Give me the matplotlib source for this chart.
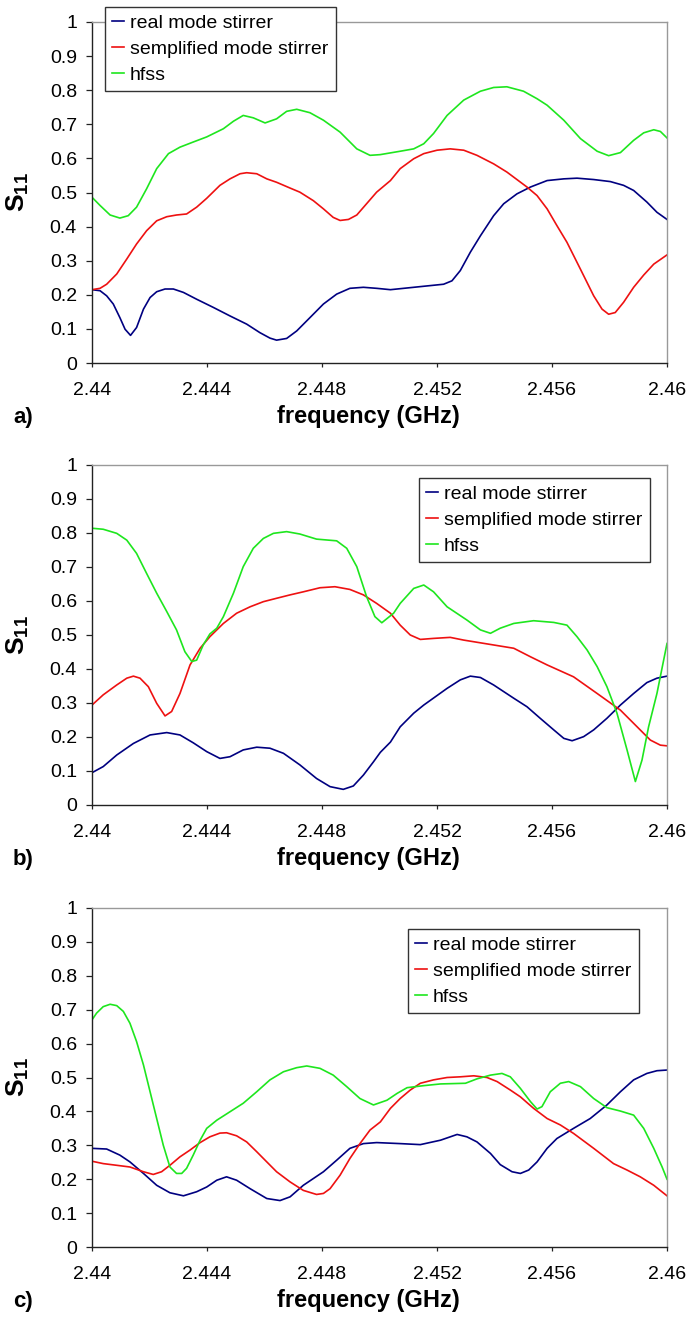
import matplotlib
matplotlib.use("Agg")
import matplotlib.pyplot as plt

plt.rcParams['font.family'] = ['Liberation Sans', 'DejaVu Sans']
plt.rcParams['mathtext.fontset'] = 'custom'
plt.rcParams['mathtext.bf'] = 'Liberation Sans:bold'
plt.rcParams['mathtext.rm'] = 'Liberation Sans'

# ---------------- data ----------------
series_names = ["real mode stirrer", "semplified mode stirrer", "hfss"]
x_ticks = [2.44, 2.444, 2.448, 2.452, 2.456, 2.46]
x_tick_labels = ["2.44", "2.444", "2.448", "2.452", "2.456", "2.46"]
y_ticks = [0, 0.1, 0.2, 0.3, 0.4, 0.5, 0.6, 0.7, 0.8, 0.9, 1.0]
y_tick_labels = ["0", "0.1", "0.2", "0.3", "0.4", "0.5", "0.6", "0.7", "0.8", "0.9", "1"]
panel_tags = ["a)", "b)", "c)"]

# ---- panel a ----
a_real_f = [2.44000, 2.44028, 2.44051, 2.44074, 2.44097, 2.44115, 2.44134, 2.44155, 2.44179, 2.44202,
            2.44225, 2.44254, 2.44283, 2.44318, 2.44364, 2.44422, 2.44480, 2.44538, 2.44584, 2.44619,
            2.44642, 2.44677, 2.44712, 2.44758, 2.44805, 2.44851, 2.44897, 2.44944, 2.44990, 2.45038,
            2.45119, 2.45223, 2.45252, 2.45281, 2.45316, 2.45351, 2.45397, 2.45432, 2.45478, 2.45525,
            2.45583, 2.45641, 2.45687, 2.45745, 2.45803, 2.45849, 2.45884, 2.45930, 2.45965, 2.46000]
a_real_v = [0.215, 0.212, 0.197, 0.173, 0.133, 0.099, 0.081, 0.104, 0.158, 0.192,
            0.209, 0.217, 0.217, 0.207, 0.187, 0.163, 0.138, 0.114, 0.089, 0.073,
            0.067, 0.072, 0.094, 0.133, 0.173, 0.202, 0.219, 0.222, 0.219, 0.215,
            0.222, 0.231, 0.241, 0.271, 0.325, 0.373, 0.432, 0.467, 0.496, 0.516,
            0.535, 0.540, 0.542, 0.538, 0.532, 0.521, 0.506, 0.472, 0.442, 0.421]
a_simp_f = [2.44000, 2.44028, 2.44051, 2.44086, 2.44121, 2.44155, 2.44190, 2.44225, 2.44260, 2.44294,
            2.44329, 2.44364, 2.44399, 2.44445, 2.44480, 2.44515, 2.44538, 2.44573, 2.44608, 2.44642,
            2.44689, 2.44723, 2.44770, 2.44805, 2.44839, 2.44863, 2.44892, 2.44921, 2.44955, 2.44990,
            2.45038, 2.45072, 2.45119, 2.45154, 2.45200, 2.45246, 2.45293, 2.45339, 2.45397, 2.45443,
            2.45513, 2.45548, 2.45583, 2.45617, 2.45652, 2.45699, 2.45745, 2.45774, 2.45797, 2.45820,
            2.45849, 2.45884, 2.45919, 2.45954, 2.46000]
a_simp_v = [0.215, 0.219, 0.231, 0.261, 0.305, 0.349, 0.388, 0.417, 0.429, 0.434,
            0.437, 0.457, 0.483, 0.521, 0.540, 0.555, 0.558, 0.555, 0.540, 0.530,
            0.513, 0.501, 0.476, 0.452, 0.427, 0.418, 0.421, 0.434, 0.467, 0.501,
            0.535, 0.570, 0.599, 0.614, 0.624, 0.628, 0.624, 0.609, 0.584, 0.560,
            0.516, 0.491, 0.452, 0.403, 0.354, 0.275, 0.197, 0.158, 0.143, 0.148,
            0.178, 0.222, 0.258, 0.290, 0.317]
a_hfss_f = [2.44000, 2.44028, 2.44063, 2.44097, 2.44126, 2.44155, 2.44190, 2.44225, 2.44266, 2.44306,
            2.44352, 2.44399, 2.44457, 2.44492, 2.44526, 2.44561, 2.44602, 2.44642, 2.44677, 2.44712,
            2.44758, 2.44805, 2.44863, 2.44921, 2.44967, 2.45002, 2.45072, 2.45119, 2.45154, 2.45188,
            2.45235, 2.45293, 2.45351, 2.45397, 2.45443, 2.45501, 2.45548, 2.45583, 2.45641, 2.45699,
            2.45757, 2.45797, 2.45838, 2.45884, 2.45919, 2.45954, 2.45977, 2.46000]
a_hfss_v = [0.486, 0.462, 0.434, 0.425, 0.432, 0.457, 0.511, 0.570, 0.614, 0.633,
            0.648, 0.663, 0.687, 0.709, 0.726, 0.719, 0.704, 0.716, 0.738, 0.744,
            0.734, 0.712, 0.677, 0.628, 0.609, 0.611, 0.621, 0.628, 0.643, 0.673,
            0.726, 0.771, 0.797, 0.808, 0.810, 0.797, 0.775, 0.756, 0.712, 0.658,
            0.621, 0.608, 0.617, 0.653, 0.675, 0.684, 0.679, 0.660]

# ---- panel b ----
b_real_f = [2.44000, 2.44039, 2.44086, 2.44144, 2.44202, 2.44260, 2.44306, 2.44352, 2.44399, 2.44445,
            2.44480, 2.44526, 2.44573, 2.44619, 2.44666, 2.44723, 2.44781, 2.44828, 2.44874, 2.44909,
            2.44944, 2.44979, 2.45003, 2.45038, 2.45072, 2.45119, 2.45154, 2.45235, 2.45281, 2.45316,
            2.45351, 2.45397, 2.45467, 2.45513, 2.45559, 2.45606, 2.45641, 2.45670, 2.45710, 2.45745,
            2.45791, 2.45838, 2.45884, 2.45930, 2.45965, 2.46000]
b_real_v = [0.095, 0.113, 0.147, 0.181, 0.206, 0.213, 0.206, 0.183, 0.157, 0.137,
            0.142, 0.162, 0.170, 0.167, 0.152, 0.118, 0.078, 0.054, 0.046, 0.056,
            0.088, 0.127, 0.155, 0.185, 0.230, 0.270, 0.294, 0.343, 0.368, 0.379,
            0.375, 0.353, 0.314, 0.289, 0.255, 0.221, 0.196, 0.189, 0.201, 0.221,
            0.255, 0.294, 0.328, 0.360, 0.373, 0.379]
b_simp_f = [2.44000, 2.44039, 2.44086, 2.44121, 2.44144, 2.44167, 2.44196, 2.44225, 2.44254, 2.44277,
            2.44306, 2.44341, 2.44376, 2.44410, 2.44457, 2.44503, 2.44550, 2.44596, 2.44642, 2.44689,
            2.44735, 2.44793, 2.44845, 2.44897, 2.44944, 2.44990, 2.45038, 2.45072, 2.45107, 2.45142,
            2.45188, 2.45246, 2.45293, 2.45351, 2.45467, 2.45525, 2.45583, 2.45675, 2.45757, 2.45838,
            2.45896, 2.45942, 2.45977, 2.46000]
b_simp_v = [0.294, 0.324, 0.353, 0.373, 0.379, 0.373, 0.348, 0.299, 0.262, 0.275,
            0.328, 0.412, 0.461, 0.495, 0.534, 0.564, 0.583, 0.598, 0.608, 0.618,
            0.627, 0.639, 0.642, 0.634, 0.618, 0.593, 0.564, 0.529, 0.500, 0.487,
            0.490, 0.493, 0.485, 0.477, 0.461, 0.436, 0.412, 0.377, 0.328, 0.279,
            0.230, 0.191, 0.176, 0.174]
b_hfss_f = [2.44000, 2.44039, 2.44086, 2.44121, 2.44155, 2.44190, 2.44225, 2.44260, 2.44294, 2.44323,
            2.44347, 2.44364, 2.44387, 2.44410, 2.44434, 2.44457, 2.44492, 2.44526, 2.44561, 2.44596,
            2.44631, 2.44677, 2.44723, 2.44781, 2.44851, 2.44886, 2.44921, 2.44955, 2.44984, 2.45008,
            2.45049, 2.45072, 2.45119, 2.45154, 2.45188, 2.45235, 2.45304, 2.45351, 2.45386, 2.45420,
            2.45467, 2.45536, 2.45606, 2.45652, 2.45687, 2.45722, 2.45757, 2.45791, 2.45826, 2.45861,
            2.45890, 2.45913, 2.45936, 2.45965, 2.46000]
b_hfss_v = [0.814, 0.811, 0.799, 0.779, 0.740, 0.681, 0.623, 0.569, 0.515, 0.451,
            0.422, 0.426, 0.471, 0.503, 0.520, 0.554, 0.623, 0.701, 0.755, 0.784,
            0.799, 0.804, 0.797, 0.782, 0.777, 0.755, 0.701, 0.613, 0.554, 0.536,
            0.564, 0.593, 0.637, 0.647, 0.627, 0.583, 0.544, 0.515, 0.505, 0.520,
            0.534, 0.542, 0.537, 0.529, 0.495, 0.456, 0.407, 0.348, 0.270, 0.162,
            0.069, 0.132, 0.230, 0.328, 0.475]

# ---- panel c ----
c_real_f = [2.44000, 2.44051, 2.44097, 2.44132, 2.44179, 2.44225, 2.44271, 2.44318, 2.44364, 2.44399,
            2.44434, 2.44468, 2.44503, 2.44550, 2.44608, 2.44654, 2.44689, 2.44735, 2.44805, 2.44851,
            2.44897, 2.44944, 2.44990, 2.45072, 2.45142, 2.45212, 2.45270, 2.45304, 2.45339, 2.45386,
            2.45420, 2.45461, 2.45490, 2.45519, 2.45548, 2.45583, 2.45617, 2.45675, 2.45733, 2.45791,
            2.45838, 2.45884, 2.45930, 2.45965, 2.46000]
c_real_v = [0.291, 0.289, 0.271, 0.251, 0.217, 0.182, 0.160, 0.151, 0.163, 0.177,
            0.197, 0.207, 0.197, 0.172, 0.143, 0.137, 0.148, 0.182, 0.222, 0.256,
            0.291, 0.305, 0.308, 0.305, 0.302, 0.315, 0.332, 0.325, 0.310, 0.276,
            0.243, 0.222, 0.217, 0.227, 0.251, 0.291, 0.320, 0.350, 0.379, 0.419,
            0.458, 0.493, 0.512, 0.520, 0.522]
c_simp_f = [2.44000, 2.44039, 2.44086, 2.44132, 2.44179, 2.44213, 2.44242, 2.44271, 2.44306, 2.44341,
            2.44376, 2.44410, 2.44445, 2.44468, 2.44503, 2.44538, 2.44573, 2.44608, 2.44642, 2.44689,
            2.44735, 2.44781, 2.44805, 2.44828, 2.44863, 2.44897, 2.44932, 2.44967, 2.45003, 2.45038,
            2.45072, 2.45107, 2.45142, 2.45188, 2.45235, 2.45281, 2.45328, 2.45374, 2.45409, 2.45455,
            2.45490, 2.45536, 2.45583, 2.45629, 2.45675, 2.45745, 2.45814, 2.45861, 2.45907, 2.45954,
            2.46000]
c_simp_v = [0.253, 0.246, 0.241, 0.236, 0.222, 0.214, 0.222, 0.241, 0.266, 0.286,
            0.308, 0.325, 0.336, 0.337, 0.328, 0.310, 0.281, 0.251, 0.222, 0.192,
            0.167, 0.155, 0.158, 0.172, 0.212, 0.261, 0.305, 0.345, 0.369, 0.409,
            0.438, 0.463, 0.483, 0.493, 0.500, 0.502, 0.505, 0.500, 0.488, 0.463,
            0.443, 0.409, 0.379, 0.360, 0.335, 0.291, 0.246, 0.227, 0.207, 0.182,
            0.151]
c_hfss_f = [2.44000, 2.44016, 2.44039, 2.44063, 2.44086, 2.44109, 2.44132, 2.44155, 2.44179, 2.44202,
            2.44225, 2.44248, 2.44271, 2.44294, 2.44312, 2.44329, 2.44352, 2.44376, 2.44399, 2.44434,
            2.44480, 2.44526, 2.44573, 2.44619, 2.44666, 2.44712, 2.44747, 2.44793, 2.44839, 2.44886,
            2.44932, 2.44979, 2.45026, 2.45061, 2.45096, 2.45154, 2.45212, 2.45299, 2.45339, 2.45386,
            2.45426, 2.45455, 2.45490, 2.45525, 2.45548, 2.45565, 2.45594, 2.45629, 2.45658, 2.45699,
            2.45745, 2.45791, 2.45838, 2.45884, 2.45919, 2.45954, 2.45983, 2.46000]
c_hfss_v = [0.670, 0.690, 0.709, 0.716, 0.712, 0.695, 0.660, 0.606, 0.537, 0.458,
            0.379, 0.300, 0.236, 0.217, 0.217, 0.232, 0.271, 0.315, 0.350, 0.374,
            0.399, 0.424, 0.458, 0.493, 0.517, 0.529, 0.534, 0.527, 0.507, 0.473,
            0.438, 0.419, 0.433, 0.453, 0.470, 0.476, 0.481, 0.483, 0.496, 0.507,
            0.512, 0.502, 0.468, 0.429, 0.407, 0.414, 0.458, 0.483, 0.488, 0.473,
            0.438, 0.411, 0.401, 0.389, 0.350, 0.291, 0.236, 0.200]

panels = [
    [(a_real_f, a_real_v), (a_simp_f, a_simp_v), (a_hfss_f, a_hfss_v)],
    [(b_real_f, b_real_v), (b_simp_f, b_simp_v), (b_hfss_f, b_hfss_v)],
    [(c_real_f, c_real_v), (c_simp_f, c_simp_v), (c_hfss_f, c_hfss_v)],
]

# ---------------- layout / style ----------------
W, H = 691, 1322
colors = ["#000080", "#ee1111", "#1ee61e"]
axes_px = [(22, 363), (465, 805), (908, 1247)]          # top, bottom (pixels)
legend_px = [(105, 7), (419, 478), (408, 929)]           # upper-left corner of legend

fig = plt.figure(figsize=(W / 100, H / 100), dpi=100)

for i, (series, (top, bot), (lx, ly)) in enumerate(zip(panels, axes_px, legend_px)):
    ax = fig.add_axes([92 / W, 1 - bot / H, 575 / W, (bot - top) / H])
    for (f, v), c, name in zip(series, colors, series_names):
        ax.plot(f, v, color=c, lw=1.2, label=name, solid_joinstyle='round')
    ax.set_xlim(2.44, 2.46)
    ax.set_ylim(0, 1)
    ax.set_xticks(x_ticks)
    ax.set_xticklabels(x_tick_labels)
    ax.set_yticks(y_ticks)
    ax.set_yticklabels(y_tick_labels)
    ax.tick_params(axis='y', direction='out', length=4.3, width=0.9, pad=6.5,
                   labelsize=14, color='#222222')
    ax.tick_params(axis='x', direction='out', length=3, width=0.9, pad=11,
                   labelsize=14, color='#222222')
    for s in ['left', 'bottom']:
        ax.spines[s].set_color('#222222')
        ax.spines[s].set_linewidth(1.0)
    for s in ['top', 'right']:
        ax.spines[s].set_color('#999999')
        ax.spines[s].set_linewidth(1.0)
    ax.set_ylabel(r'$\mathbf{S}_{\mathbf{11}}$', fontsize=19, rotation=90)
    ax.yaxis.set_label_coords((31 - 92) / 575, 0.5)
    leg = ax.legend(loc='upper left', bbox_to_anchor=(lx / W, 1 - ly / H),
                    bbox_transform=fig.transFigure, borderaxespad=0,
                    fontsize=14, handlelength=0.6, handletextpad=0.3,
                    borderpad=0.38, labelspacing=0.42, fancybox=False,
                    framealpha=1, edgecolor='#333333')
    leg.get_frame().set_linewidth(1.0)
    fig.text(13 / W, 1 - (bot + 54) / H, panel_tags[i], fontsize=16,
             fontweight='bold', ha='left', va='center')
    fig.text(368 / W, 1 - (bot + 54) / H, "frequency (GHz)", fontsize=17,
             fontweight='bold', ha='center', va='center')

fig.savefig("out.png", dpi=100)
